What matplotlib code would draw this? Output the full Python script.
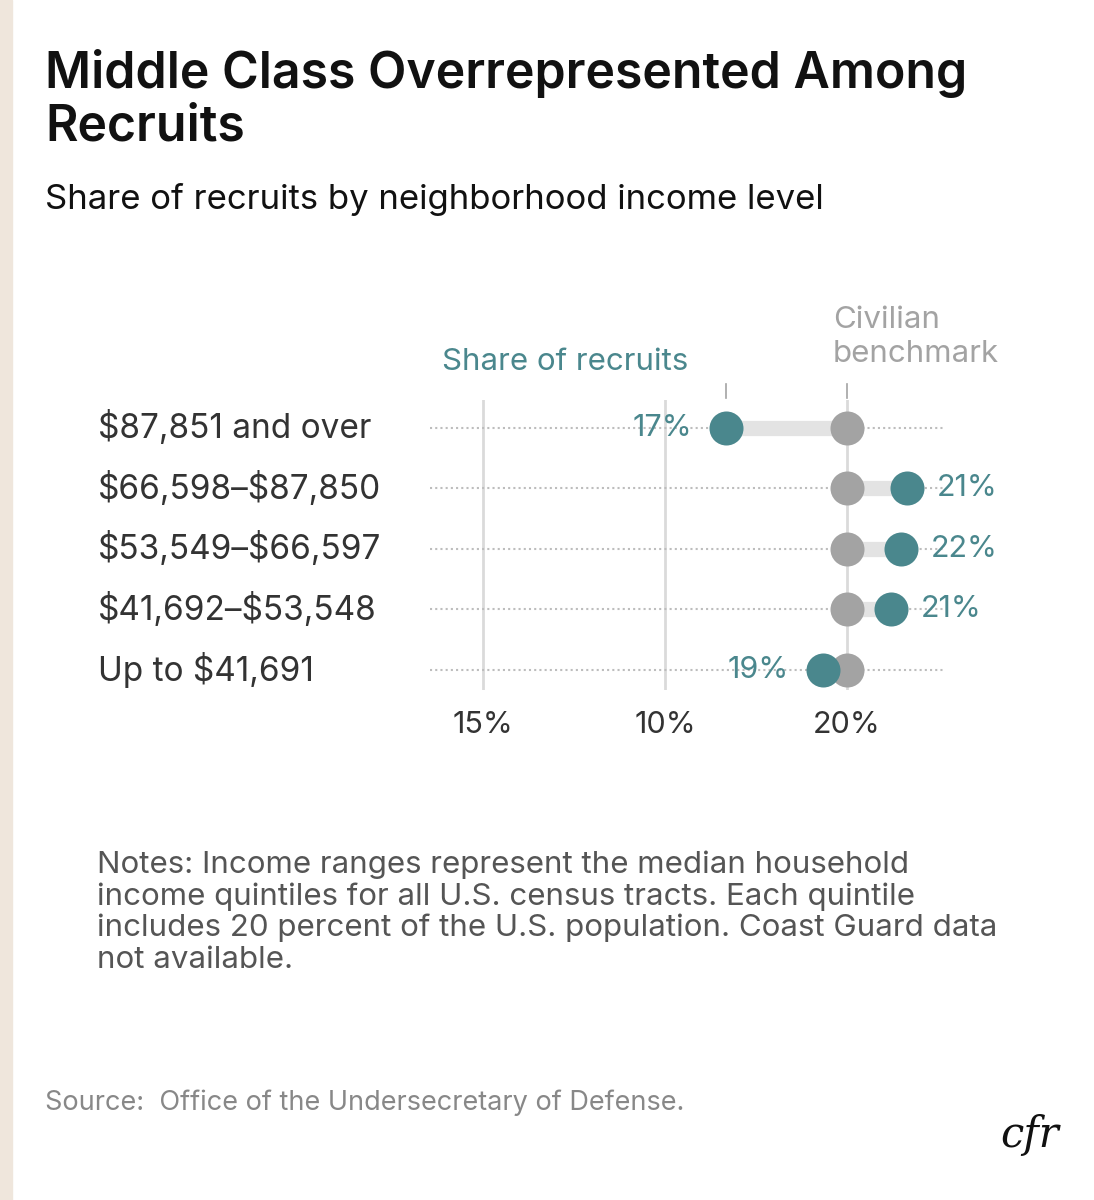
import matplotlib
matplotlib.use("Agg")
import matplotlib.pyplot as plt
from matplotlib.patches import Rectangle

categories = ["$87,851 and over", "$66,598–$87,850", "$53,549–$66,597", "$41,692–$53,548", "Up to $41,691"]
recruits = [16.98, 21.5, 21.35, 21.1, 19.4]
recruit_labels = ["17%", "21%", "22%", "21%", "19%"]
benchmark = [20, 20, 20, 20, 20]
tick_pos = [10.9, 15.45, 20.0]
tick_labels = ["15%", "10%", "20%"]

TEAL = "#4a878d"; GRAY = "#a3a3a3"; LIGHT = "#e3e3e3"
plt.rcParams['font.family'] = ['Inter', 'DejaVu Sans']
plt.rcParams['text.parse_math'] = False
W, H = 1094, 1200
fig = plt.figure(figsize=(W/100, H/100), dpi=100)
fig.patches.append(Rectangle((0, 0), 12/W, 1, transform=fig.transFigure, color="#efe6dc", zorder=0))

def fx(x): return x/W
def fy(y): return 1 - y/H

fig.text(fx(45), fy(100), "Middle Class Overrepresented Among\nRecruits", fontsize=36, fontweight='semibold',
         va='center', ha='left', linespacing=1.15, color='#111')
fig.text(fx(45), fy(200), "Share of recruits by neighborhood income level", fontsize=25, va='center', color='#111')

ax = fig.add_axes([fx(430), fy(690), fx(945)-fx(430), fy(400)-fy(690)])
ax.set_xlim(9.575, 22.45)
ax.set_ylim(4.33, -0.46)
for s in ax.spines.values(): s.set_visible(False)
ax.set_yticks([]); ax.set_xticks([])
tr = matplotlib.transforms.blended_transform_factory(fig.transFigure, ax.transData)
for t in tick_pos:
    ax.axvline(t, color="#dadada", lw=2, zorder=1)
for i, (r, b) in enumerate(zip(recruits, benchmark)):
    ax.plot([ax.get_xlim()[0], ax.get_xlim()[1]], [i, i], color="#bdbdbd", lw=1.5, ls=(0, (1, 1.5)), zorder=1)
    ax.plot([r, b], [i, i], color=LIGHT, lw=11, zorder=2, solid_capstyle='butt')
    ax.scatter([b], [i], s=600, color=GRAY, zorder=3, lw=0)
    ax.scatter([r], [i], s=600, color=TEAL, zorder=4, lw=0)
    if r < b:
        ax.text(r - 0.85, i, recruit_labels[i], ha='right', va='center', fontsize=22, color=TEAL)
    else:
        ax.text(r + 0.75, i, recruit_labels[i], ha='left', va='center', fontsize=22, color=TEAL)
    fig.text(fx(98), i, categories[i], fontsize=24, color='#333', va='center', transform=tr)
for t, l in zip(tick_pos, tick_labels):
    ax.text(t, 4.9, l, ha='center', va='center', fontsize=22, color='#333', clip_on=False)
ax.plot([recruits[0]]*2, [-0.72, -0.5], color=GRAY, lw=1.2, clip_on=False)
ax.plot([20, 20], [-0.72, -0.5], color=GRAY, lw=1.2, clip_on=False)
fig.text(fx(565), fy(362), "Share of recruits", fontsize=22.5, color=TEAL, ha='center', va='center')
fig.text(fx(833), fy(337), "Civilian\nbenchmark", fontsize=22.5, color=GRAY, ha='left', va='center', linespacing=1.3)

fig.text(fx(97), fy(912), "Notes: Income ranges represent the median household\nincome quintiles for all U.S. census tracts. Each quintile\nincludes 20 percent of the U.S. population. Coast Guard data\nnot available.",
         fontsize=22.5, color='#555', va='center', ha='left', linespacing=1.15)
fig.text(fx(45), fy(1103), "Source:  Office of the Undersecretary of Defense.", fontsize=19.5, color='#888', va='center')
fig.text(fx(1030), fy(1135), "cfr", fontsize=30, family='DejaVu Serif', style='italic', color='#111', ha='center', va='center')
fig.savefig("out.png", dpi=100, facecolor='white')
